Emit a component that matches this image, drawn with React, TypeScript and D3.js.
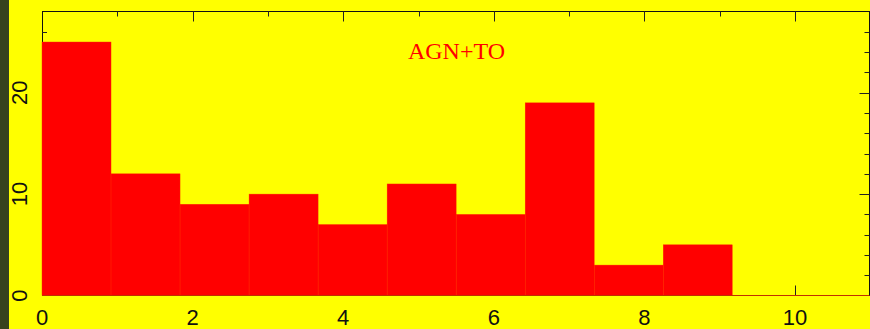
import React, { useRef, useEffect } from 'react';
import * as d3 from 'd3';

// histogram counts, 12 bins of equal width over [0, 11]
const binStart = 0;
const binEnd = 11;
const counts = [25, 12, 9, 10, 7, 11, 8, 19, 3, 5, 0, 0];
const xTickLabels = [0, 2, 4, 6, 8, 10];
const yTickLabels = [0, 10, 20];
const title = 'AGN+TO';

const W = 870;
const H = 329;

const App = () => {
  const svgRef = useRef<SVGSVGElement>(null);

  useEffect(() => {
    const svg = d3.select(svgRef.current);
    svg.selectAll('*').remove();

    const left = 42;
    const right = 869.5;
    const top = 11.5;
    const bottom = 295.5;

    const x = d3.scaleLinear().domain([0, 11]).range([left, left + 11 * 75.3]);
    const y = d3.scaleLinear().domain([0, 28]).range([bottom, bottom - 28 * 10.14]);

    svg.append('rect').attr('width', W).attr('height', H).attr('fill', '#ffff00');
    svg.append('rect').attr('width', 9).attr('height', H).attr('fill', '#37421e');

    const g = svg.append('g');

    // frame
    g.append('rect')
      .attr('x', left + 0.5).attr('y', top)
      .attr('width', right - left - 0.5).attr('height', bottom - top)
      .attr('fill', 'none').attr('stroke', '#111').attr('stroke-width', 1);

    const tickColor = '#222';
    const xMinor = d3.range(1, 11);
    xMinor.forEach(v => {
      const major = v % 2 === 0;
      const len = major ? 10 : 5;
      const px = Math.round(x(v)) + 0.5;
      g.append('line').attr('x1', px).attr('x2', px).attr('y1', top).attr('y2', top + len)
        .attr('stroke', tickColor).attr('stroke-width', 1);
      g.append('line').attr('x1', px).attr('x2', px).attr('y1', bottom).attr('y2', bottom - len)
        .attr('stroke', tickColor).attr('stroke-width', 1);
    });
    const yMinor = d3.range(2, 28, 2);
    yMinor.forEach(v => {
      const major = v % 10 === 0;
      const len = major ? 10 : 5;
      const py = Math.round(y(v)) + 0.5;
      g.append('line').attr('x1', left).attr('x2', left + len).attr('y1', py).attr('y2', py)
        .attr('stroke', tickColor).attr('stroke-width', 1);
      g.append('line').attr('x1', right).attr('x2', right - len).attr('y1', py).attr('y2', py)
        .attr('stroke', tickColor).attr('stroke-width', 1);
    });

    // bars
    const bw = (binEnd - binStart) / counts.length;
    const bins = counts.map((c, i) => ({ x0: binStart + i * bw, x1: binStart + (i + 1) * bw, c }));
    g.append('g')
      .selectAll('rect')
      .data(bins.filter(d => d.c > 0))
      .enter()
      .append('rect')
      .attr('x', d => x(d.x0))
      .attr('width', d => x(d.x1) - x(d.x0))
      .attr('y', d => y(d.c))
      .attr('height', d => y(0) - y(d.c))
      .attr('fill', '#ff0000')
      .attr('stroke', '#ff2a00')
      .attr('stroke-width', 0.4);

    // zero line of the histogram
    g.append('line')
      .attr('x1', x(0)).attr('x2', right)
      .attr('y1', y(0)).attr('y2', y(0))
      .attr('stroke', '#c03000').attr('stroke-width', 1.2);

    const font = '"Liberation Sans", Arial, sans-serif';
    g.append('g')
      .selectAll('text')
      .data(xTickLabels)
      .enter()
      .append('text')
      .attr('x', d => x(d))
      .attr('y', 325)
      .attr('text-anchor', 'middle')
      .attr('font-family', font)
      .attr('font-size', 22)
      .attr('fill', '#111')
      .text(d => d);

    g.append('g')
      .selectAll('text')
      .data(yTickLabels)
      .enter()
      .append('text')
      .attr('transform', d => `translate(27,${y(d)}) rotate(-90)`)
      .attr('text-anchor', 'middle')
      .attr('font-family', font)
      .attr('font-size', 22)
      .attr('fill', '#111')
      .text(d => d);

    g.append('text')
      .attr('x', 456.5)
      .attr('y', 59)
      .attr('text-anchor', 'middle')
      .attr('font-family', '"Liberation Serif", "Times New Roman", serif')
      .attr('font-size', 24)
      .attr('fill', '#ff0000')
      .text(title);
  }, []);

  return (
    <svg
      ref={svgRef}
      width={W}
      height={H}
      style={{ position: 'absolute', left: 0, top: 0, display: 'block' }}
    ></svg>
  );
};

export default App;
